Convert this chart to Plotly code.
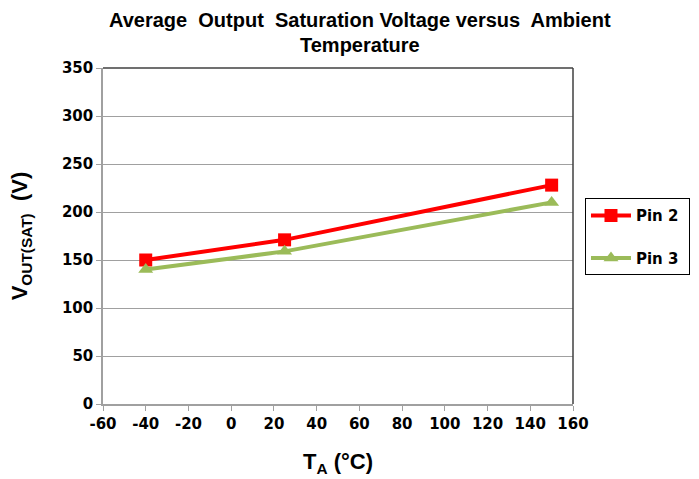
import plotly.graph_objects as go

temps = [-40, 25, 150]
pin2 = [150, 171, 228]
pin3 = [140, 159, 210]
x_ticks = list(range(-60, 161, 20))
y_ticks = list(range(0, 351, 50))
title_lines = ["Average  Output  Saturation Voltage versus  Ambient", "Temperature"]

font_family = "Liberation Sans, Arial, sans-serif"
tick_family = "DejaVu Sans, sans-serif"

fig = go.Figure()
fig.add_trace(go.Scatter(
    x=temps, y=pin2, mode="lines+markers", name="<b>Pin 2</b>&nbsp;", legendgroup="a",
    line=dict(color="#FF0000", width=4),
    marker=dict(symbol="square", size=13, color="#FF0000"),
))
fig.add_trace(go.Scatter(
    x=temps, y=pin3, mode="lines+markers", name="<b>Pin 3</b>&nbsp;", legendgroup="b",
    line=dict(color="#9BBB59", width=4),
    marker=dict(symbol="triangle-up", size=13, color="#9BBB59"),
))

annotations = [
    dict(text=f"<b>{title_lines[0]}</b>", xref="paper", yref="paper",
         x=0.547, y=1 + 48 / 336, xanchor="center", yanchor="middle", showarrow=False,
         font=dict(size=20, family=font_family, color="black")),
    dict(text=f"<b>{title_lines[1]}</b>", xref="paper", yref="paper",
         x=0.547, y=1 + 23 / 336, xanchor="center", yanchor="middle", showarrow=False,
         font=dict(size=20, family=font_family, color="black")),
]

fig.update_layout(
    width=699, height=479,
    margin=dict(l=103, r=126, t=68, b=75, autoexpand=False),
    paper_bgcolor="white", plot_bgcolor="white",
    font=dict(family=font_family, color="black"),
    showlegend=True,
    legend=dict(
        x=1.0255, xanchor="left", y=0.612, yanchor="top",
        bordercolor="black", borderwidth=1, bgcolor="white",
        font=dict(size=15, family=tick_family, color="black"),
        tracegroupgap=20, itemwidth=40,
    ),
    xaxis=dict(
        range=[-60, 160], tickvals=x_ticks, ticktext=[f"<b>{v}</b>" for v in x_ticks],
        showgrid=False, zeroline=False, automargin=False,
        showline=True, linecolor="#A0A0A0", linewidth=1.5,
        ticks="outside", ticklen=5, tickcolor="#A0A0A0",
        tickfont=dict(size=15, family=tick_family, color="black"),
        title=dict(text="<b>T<sub>A</sub> (°C)</b>", font=dict(size=22, family=font_family), standoff=22),
    ),
    yaxis=dict(
        range=[0, 350], tickvals=y_ticks, ticktext=[f"<b>{v}</b>" for v in y_ticks],
        showgrid=True, gridcolor="#A0A0A0", gridwidth=1.2, zeroline=False, automargin=False,
        showline=True, linecolor="#A0A0A0", linewidth=1.5,
        ticks="outside", ticklen=5, tickcolor="#A0A0A0",
        tickfont=dict(size=15, family=tick_family, color="black"),
        title=dict(text="<b>V<sub>OUT(SAT)</sub>  (V)</b>", font=dict(size=22, family=font_family), standoff=28),
    ),
    annotations=annotations,
    shapes=[
        dict(type="line", xref="paper", yref="paper", x0=0, x1=1, y0=1, y1=1,
             line=dict(color="#404040", width=1.5)),
        dict(type="line", xref="paper", yref="paper", x0=1, x1=1, y0=0, y1=1,
             line=dict(color="#404040", width=1.5)),
    ],
)

fig.write_html("out.html", config={"displayModeBar": False},
               post_script="document.body.style.margin='0px';")
